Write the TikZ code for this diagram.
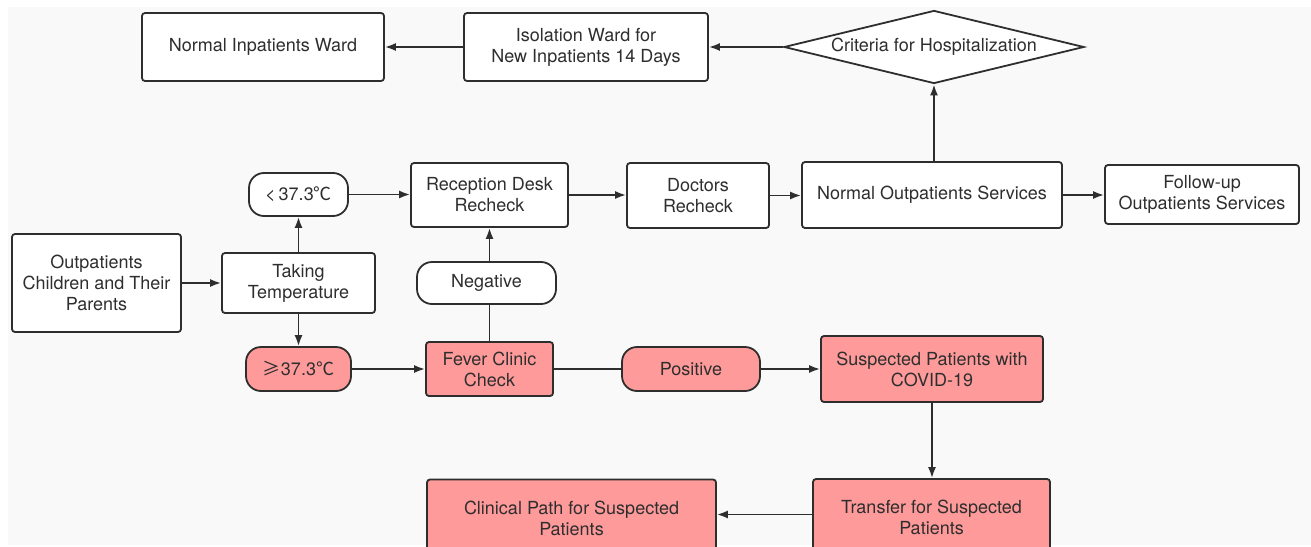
\documentclass[tikz,border=0pt]{standalone}
\usepackage{fontspec}
\setmainfont{TeX Gyre Heros}
\newfontfamily\cjk{Noto Sans CJK SC}
\usetikzlibrary{shapes.geometric,arrows.meta}
\definecolor{bgc}{HTML}{F9F9F9}
\definecolor{pinkc}{HTML}{FF9A9A}
\definecolor{linec}{HTML}{2E2E2E}
\tikzset{
  base/.style={draw=linec, line width=1.8pt, text=linec, align=center, inner sep=2pt,
    font=\fontsize{18}{21}\selectfont},
  proc/.style={base, rectangle, rounded corners=3pt, fill=white},
  term/.style={base, rectangle, rounded corners=17pt, fill=white},
  pinkproc/.style={proc, fill=pinkc},
  pinkterm/.style={term, fill=pinkc},
  decide/.style={base, diamond, fill=white, aspect=4, inner sep=0pt},
  arr/.style={draw=linec, line width=1.8pt, -{Latex[length=11pt,width=8pt]}},
  ln/.style={draw=linec, line width=1.8pt}
}
\begin{document}
\begin{tikzpicture}[x=1pt,y=-1pt]
\useasboundingbox (0,0) rectangle (1311,546);
\clip (0,0) rectangle (1311,546);
\fill[white] (0,0) rectangle (1311,546);
\fill[bgc] (8,7) rectangle (1311,545);

\node[proc, minimum width=242pt, minimum height=68pt] (inpat) at (263,47) {Normal Inpatients Ward};
\node[proc, minimum width=244pt, minimum height=68pt] (isol) at (586,47) {Isolation Ward for\\New Inpatients 14 Days};
\node[decide, minimum width=300pt, minimum height=73pt] (crit) at (934,47) {Criteria for Hospitalization};

\node[term, minimum width=99pt, minimum height=43pt, rounded corners=15pt] (lt) at (298.5,194.5) {<\,37.3{\cjk ℃}};
\node[proc, minimum width=157pt, minimum height=64pt] (recep) at (489.5,195) {Reception Desk\\Recheck};
\node[proc, minimum width=142pt, minimum height=65pt] (doc) at (698,195.5) {Doctors\\Recheck};
\node[proc, minimum width=260pt, minimum height=66pt] (normout) at (932,195) {Normal Outpatients Services};
\node[proc, minimum width=194pt, minimum height=59pt] (follow) at (1202,194.5) {Follow-up\\Outpatients Services};

\node[proc, minimum width=169pt, minimum height=98pt] (child) at (96.5,283) {Outpatients\\Children and Their\\Parents};
\node[proc, minimum width=153pt, minimum height=60pt] (temp) at (298.5,283) {Taking\\Temperature};
\node[term, minimum width=139pt, minimum height=42pt, rounded corners=15pt] (neg) at (486.5,283) {Negative};

\node[pinkterm, minimum width=105pt, minimum height=44pt, rounded corners=15pt] (ge) at (298.5,369) {{\cjk ≥}37.3{\cjk ℃}};
\node[pinkproc, minimum width=127pt, minimum height=54pt] (fever) at (489.5,369) {Fever Clinic\\Check};
\node[pinkterm, minimum width=138pt, minimum height=44pt, rounded corners=15pt] (pos) at (691,369) {Positive};
\node[pinkproc, minimum width=222pt, minimum height=66pt] (susp) at (932,369) {Suspected Patients with\\COVID-19};

\node[pinkproc, minimum width=237pt, minimum height=77pt] (trans) at (931.5,517.5) {Transfer for Suspected\\Patients};
\node[pinkproc, minimum width=289pt, minimum height=77pt] (clin) at (571.5,518) {Clinical Path for Suspected\\Patients};

% connectors
\draw[arr] (crit.west) -- (isol.east);
\draw[arr] (isol.west) -- (inpat.east);
\draw[arr] (normout.north -| crit.south) -- (crit.south);
\draw[arr] (child.east) -- (temp.west);
\draw[arr] (temp.north) -- (lt.south);
\draw[arr] (temp.south) -- (ge.north);
\draw[arr] (lt.east) -- (lt.east -| recep.west);
\draw[arr] (recep.east) -- (recep.east -| doc.west);
\draw[arr] (doc.east) -- (doc.east -| normout.west);
\draw[arr] (normout.east) -- (normout.east -| follow.west);
\draw[ln] (fever.north) -- (fever.north |- neg.south);
\draw[arr] (fever.north |- neg.north) -- (recep.south);
\draw[arr] (ge.east) -- (fever.west);
\draw[ln] (fever.east) -- (pos.west);
\draw[arr] (pos.east) -- (susp.west);
\draw[arr] (susp.south) -- (susp.south |- trans.north);
\draw[arr] ([yshift=3pt]trans.west) -- ([yshift=3pt]trans.west -| clin.east);
\end{tikzpicture}
\end{document}
